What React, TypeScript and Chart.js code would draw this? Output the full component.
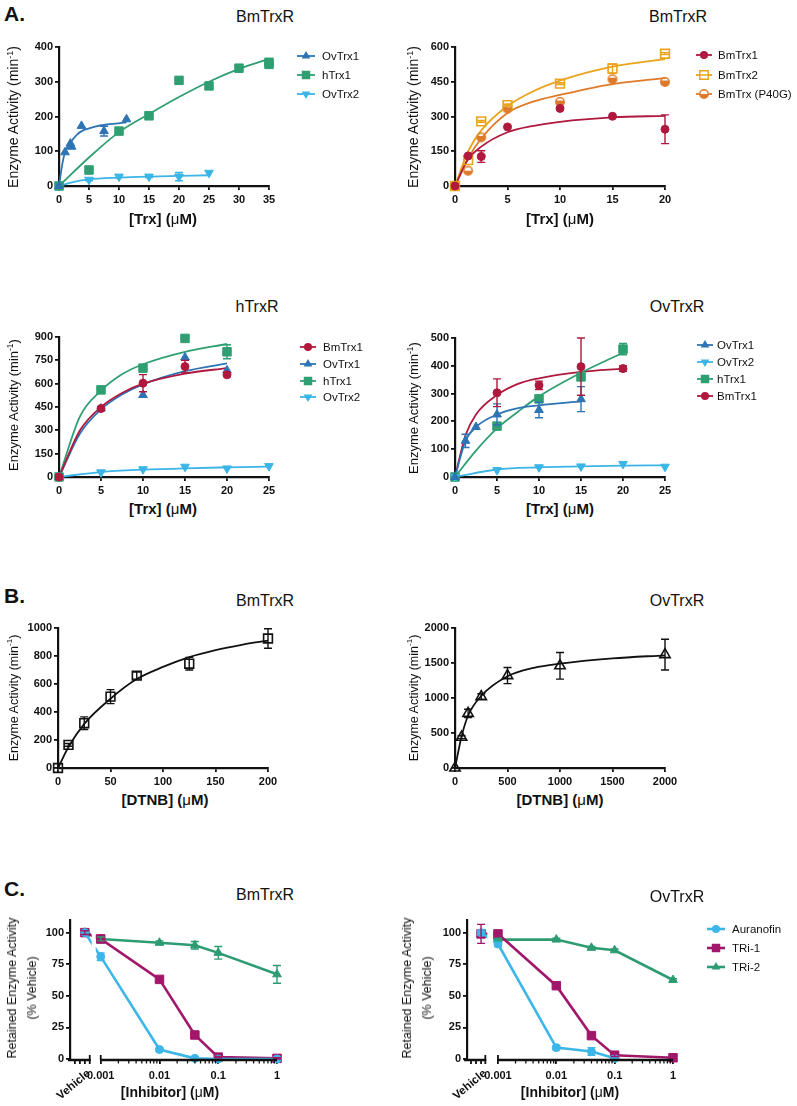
import React, { useEffect, useRef } from 'react';
import { Chart, registerables } from 'chart.js';
Chart.register(...registerables);

const FONT = '"Liberation Sans", Arial, Helvetica, sans-serif';

// ---------- colours ----------
const COL_OVTRX1 = '#2E74B5';
const COL_HTRX1 = '#2F9F72';
const COL_OVTRX2 = '#3BB4E6';
const COL_BMTRX1 = '#B0183E';
const COL_BMTRX2 = '#E9A41C';
const COL_P40G = '#DE7A2A';
const COL_AURANOFIN = '#3DB6E8';
const COL_TRI1 = '#A1176A';
const COL_TRI2 = '#2E9C72';
const COL_BLACK = '#111111';

// ---------- A1 : BmTrxR ----------
const A1_OVTRX1_X = [0, 1, 1.9, 2.1, 3.75, 7.5, 11.25];
const A1_OVTRX1_Y = [0, 97, 122, 113, 173, 158, 192];
const A1_OVTRX1_ERR = [0, 0, 0, 0, 0, 14, 0];
const A1_OVTRX1_FIT_X = [0, 0.5, 1, 2, 3, 4, 5, 6, 8, 11.25];
const A1_OVTRX1_FIT_Y = [0, 58, 97, 127, 148, 160, 166, 171, 177, 183];
const A1_HTRX1_X = [0, 5, 10, 15, 20, 25, 30, 35, 35];
const A1_HTRX1_Y = [0, 46, 158, 202, 304, 288, 339, 350, 356];
const A1_HTRX1_FIT_X = [0, 5, 10, 15, 20, 25, 30, 35];
const A1_HTRX1_FIT_Y = [0, 82, 155, 207, 256, 300, 337, 366];
const A1_OVTRX2_X = [0, 5, 10, 15, 20, 25];
const A1_OVTRX2_Y = [0, 18, 27, 27, 27, 38];
const A1_OVTRX2_ERR = [0, 3, 3, 3, 12, 0];
const A1_OVTRX2_FIT_X = [0, 2.5, 5, 10, 15, 20, 25];
const A1_OVTRX2_FIT_Y = [0, 12, 19, 24, 27, 29, 31];
const A1_X_TICKS = [0, 5, 10, 15, 20, 25, 30, 35];
const A1_Y_TICKS = [0, 100, 200, 300, 400];

// ---------- A2 : BmTrxR ----------
const A2_TRX_X = [0, 1.25, 2.5, 5, 10, 15, 20];
const A2_BMTRX1_Y = [0, 130, 127, 255, 335, 301, 245];
const A2_BMTRX1_ERR = [0, 0, 25, 0, 7, 0, 62];
const A2_BMTRX2_Y = [0, 112, 279, 349, 442, 507, 571];
const A2_BMTRX2_ERR = [0, 0, 4, 4, 4, 20, 4];
const A2_P40G_Y = [0, 66, 210, 334, 363, 461, 449];
const A2_P40G_ERR = [0, 0, 3, 3, 3, 3, 3];
const A2_FIT_X = [0, 1.25, 2.5, 5, 7.5, 10, 15, 20];
const A2_BMTRX1_FIT_Y = [0, 115, 170, 232, 260, 277, 296, 303];
const A2_BMTRX2_FIT_Y = [0, 150, 240, 345, 410, 455, 515, 548];
const A2_P40G_FIT_Y = [0, 120, 205, 315, 365, 393, 440, 466];
const A2_X_TICKS = [0, 5, 10, 15, 20];
const A2_Y_TICKS = [0, 150, 300, 450, 600];

// ---------- A3 : hTrxR ----------
const A3_TRX_X = [0, 5, 10, 15, 20];
const A3_BMTRX1_Y = [0, 440, 603, 710, 657];
const A3_BMTRX1_ERR = [0, 8, 55, 40, 8];
const A3_OVTRX1_Y = [0, 440, 527, 769, 685];
const A3_HTRX1_Y = [0, 560, 700, 891, 805];
const A3_HTRX1_ERR = [0, 0, 0, 0, 45];
const A3_OVTRX2_X = [0, 5, 10, 15, 20, 25];
const A3_OVTRX2_Y = [0, 30, 50, 66, 55, 70];
const A3_FIT_X = [0, 2.5, 5, 7.5, 10, 15, 20];
const A3_BMTRX1_FIT_Y = [0, 300, 450, 540, 600, 665, 700];
const A3_OVTRX1_FIT_Y = [0, 280, 435, 530, 595, 680, 730];
const A3_HTRX1_FIT_Y = [0, 390, 555, 660, 725, 805, 855];
const A3_OVTRX2_FIT_X = [0, 5, 10, 15, 20, 25];
const A3_OVTRX2_FIT_Y = [0, 32, 47, 56, 62, 67];
const A3_X_TICKS = [0, 5, 10, 15, 20, 25];
const A3_Y_TICKS = [0, 150, 300, 450, 600, 750, 900];

// ---------- A4 : OvTrxR ----------
const A4_OVTRX1_X = [0, 1.25, 2.5, 5, 10, 15];
const A4_OVTRX1_Y = [0, 130, 180, 225, 241, 280];
const A4_OVTRX1_ERR = [0, 24, 0, 38, 28, 45];
const A4_OVTRX1_FIT_X = [0, 1.25, 2.5, 5, 7.5, 10, 15];
const A4_OVTRX1_FIT_Y = [0, 130, 180, 225, 248, 258, 272];
const A4_OVTRX2_X = [0, 5, 10, 15, 20, 25];
const A4_OVTRX2_Y = [0, 25, 35, 38, 47, 37];
const A4_OVTRX2_FIT_Y = [0, 27, 35, 38, 41, 42];
const A4_TRX_X = [0, 5, 10, 15, 20];
const A4_HTRX1_Y = [0, 183, 281, 360, 460];
const A4_HTRX1_ERR = [0, 0, 0, 0, 20];
const A4_HTRX1_FIT_X = [0, 2.5, 5, 7.5, 10, 15, 20];
const A4_HTRX1_FIT_Y = [0, 95, 175, 235, 290, 375, 447];
const A4_BMTRX1_Y = [0, 303, 330, 397, 390];
const A4_BMTRX1_ERR = [0, 50, 15, 103, 10];
const A4_BMTRX1_FIT_X = [0, 1.25, 2.5, 5, 7.5, 10, 15, 20];
const A4_BMTRX1_FIT_Y = [0, 150, 225, 295, 335, 355, 378, 390];
const A4_X_TICKS = [0, 5, 10, 15, 20, 25];
const A4_Y_TICKS = [0, 100, 200, 300, 400, 500];

// ---------- B1 : BmTrxR (DTNB) ----------
const B1_DTNB_X = [0, 10, 25, 50, 75, 125, 200];
const B1_ACT_Y = [0, 165, 320, 510, 660, 745, 925];
const B1_ACT_ERR = [0, 10, 45, 50, 25, 45, 70];
const B1_FIT_X = [0, 10, 25, 50, 75, 100, 125, 150, 175, 200];
const B1_FIT_Y = [0, 150, 315, 495, 635, 722, 792, 842, 880, 910];
const B1_X_TICKS = [0, 50, 100, 150, 200];
const B1_Y_TICKS = [0, 200, 400, 600, 800, 1000];

// ---------- B2 : OvTrxR (DTNB) ----------
const B2_DTNB_X = [0, 62.5, 125, 250, 500, 1000, 2000];
const B2_ACT_Y = [0, 440, 780, 1020, 1320, 1460, 1620];
const B2_ACT_ERR = [0, 20, 60, 40, 115, 190, 220];
const B2_FIT_X = [0, 62.5, 125, 250, 500, 750, 1000, 1500, 2000];
const B2_FIT_Y = [0, 450, 750, 1030, 1310, 1430, 1490, 1565, 1610];
const B2_X_TICKS = [0, 500, 1000, 1500, 2000];
const B2_Y_TICKS = [0, 500, 1000, 1500, 2000];

// ---------- C : inhibitors (first value = Vehicle) ----------
const INHIB_CONC = [0.001, 0.01, 0.04, 0.1, 1];
const INHIB_X_TICKS = [0.001, 0.01, 0.1, 1];
const C_Y_TICKS = [0, 25, 50, 75, 100];
const C1_AURANOFIN = [100, 81, 7.5, 0.5, 0, 0];
const C1_AURANOFIN_ERR = [1.5, 3, 1, 0, 0, 0];
const C1_TRI1 = [100, 95, 63, 19, 1.5, 0.5];
const C1_TRI1_ERR = [1.5, 3, 1.5, 1.5, 0.5, 0.5];
const C1_TRI2 = [100, 95, 92, 90, 84, 67];
const C1_TRI2_ERR = [0, 1.5, 1.5, 3, 5, 7];
const C2_AURANOFIN = [100, 91, 9, 6, 0.5, null];
const C2_AURANOFIN_ERR = [2, 2, 1.5, 3, 0, 0];
const C2_TRI1 = [99, 99, 58, 18.5, 3, 1];
const C2_TRI1_ERR = [7.5, 1.5, 2, 2, 1, 1];
const C2_TRI2 = [98, 94.5, 94.5, 88, 86, 62.5];
const C2_TRI2_ERR = [0, 1, 1, 1, 1, 1];

// ---------- types ----------
type Marker = 'circle' | 'rect' | 'triangle' | 'triangleDown' | 'openRect' | 'openTriangle' | 'halfCircle';
interface Series {
  label?: string;
  color: string;
  marker: Marker;
  x: number[];
  y: (number | null)[];
  err?: number[];
  fitX?: number[];
  fitY?: number[];
  connect?: boolean;
}
interface Panel {
  canvas: { x: number; y: number; w: number; h: number };
  area: { l: number; t: number; r: number; b: number };
  xMin: number; xMax: number; xTicks: number[]; xLog?: boolean;
  yMax: number; yTicks: number[];
  series: Series[];
  legend?: { x: number; ys: number[]; len: number; off: number };
  broken?: { segEnd: number; vehicle: number };
}

const TICK_FONT = { family: FONT, size: 11, weight: 'bold' as const };

function makeHalfCircle(color: string) {
  const c = document.createElement('canvas');
  c.width = 12; c.height = 12;
  const g = c.getContext('2d')!;
  g.fillStyle = color; g.strokeStyle = color; g.lineWidth = 1.5;
  g.beginPath(); g.arc(6, 6, 4.2, 0, Math.PI); g.closePath(); g.fill();
  g.beginPath(); g.arc(6, 6, 4.2, 0, Math.PI * 2); g.stroke();
  return c;
}

function markerOpts(s: Series) {
  const base: any = { pointBorderColor: s.color, pointBackgroundColor: s.color, pointBorderWidth: 1, pointHoverRadius: 0 };
  switch (s.marker) {
    case 'circle': return { ...base, pointStyle: 'circle', pointRadius: 4 };
    case 'rect': return { ...base, pointStyle: 'rect', pointRadius: 6 };
    case 'triangle': return { ...base, pointStyle: 'triangle', pointRadius: 5 };
    case 'triangleDown': return { ...base, pointStyle: 'triangle', pointRadius: 5, pointRotation: 180 };
    case 'openRect': return { ...base, pointStyle: 'rect', pointRadius: 6.2, pointBackgroundColor: 'rgba(0,0,0,0)', pointBorderWidth: 1.6 };
    case 'openTriangle': return { ...base, pointStyle: 'triangle', pointRadius: 6, pointBackgroundColor: 'rgba(0,0,0,0)', pointBorderWidth: 1.6 };
    case 'halfCircle': return { ...base, pointStyle: makeHalfCircle(s.color), pointRadius: 5 };
  }
}

function drawMarker(ctx: CanvasRenderingContext2D, kind: Marker, color: string, x: number, y: number) {
  ctx.save();
  ctx.fillStyle = color; ctx.strokeStyle = color; ctx.lineWidth = 1.5;
  const tri = (r: number, down: boolean) => {
    const s = down ? -1 : 1;
    ctx.beginPath();
    ctx.moveTo(x, y - s * r);
    ctx.lineTo(x + r * Math.sin(2 * Math.PI / 3), y + s * r / 2);
    ctx.lineTo(x - r * Math.sin(2 * Math.PI / 3), y + s * r / 2);
    ctx.closePath();
  };
  const h = 6 * Math.SQRT1_2;
  if (kind === 'circle') { ctx.beginPath(); ctx.arc(x, y, 4, 0, Math.PI * 2); ctx.fill(); }
  else if (kind === 'rect') { ctx.fillRect(x - h, y - h, 2 * h, 2 * h); }
  else if (kind === 'openRect') { ctx.fillStyle = '#fff'; ctx.fillRect(x - h, y - h, 2 * h, 2 * h); ctx.strokeRect(x - h, y - h, 2 * h, 2 * h); ctx.beginPath(); ctx.moveTo(x - h, y); ctx.lineTo(x + h, y); ctx.stroke(); }
  else if (kind === 'triangle') { tri(5, false); ctx.fill(); }
  else if (kind === 'triangleDown') { tri(5, true); ctx.fill(); }
  else if (kind === 'openTriangle') { tri(6, false); ctx.stroke(); }
  else if (kind === 'halfCircle') {
    ctx.fillStyle = '#fff'; ctx.beginPath(); ctx.arc(x, y, 4.2, 0, Math.PI * 2); ctx.fill();
    ctx.fillStyle = color; ctx.beginPath(); ctx.arc(x, y, 4.2, 0, Math.PI); ctx.closePath(); ctx.fill();
    ctx.beginPath(); ctx.arc(x, y, 4.2, 0, Math.PI * 2); ctx.stroke();
  }
  ctx.restore();
}

function buildConfig(p: Panel): any {
  const markerSets: any[] = [];
  const fitSets: any[] = [];
  p.series.forEach((s) => {
    markerSets.push({
      data: s.x.map((x, i) => ({ x, y: s.y[i] })),
      showLine: !!s.connect,
      borderColor: s.color,
      borderWidth: 2.6,
      tension: 0,
      spanGaps: false,
      clip: false,
      errs: s.err,
      errColor: s.color,
      ...markerOpts(s),
    });
    if (s.fitX && s.fitY) {
      fitSets.push({
        data: s.fitX.map((x, i) => ({ x, y: s.fitY![i] })),
        showLine: true,
        pointRadius: 0,
        pointHoverRadius: 0,
        borderColor: s.color,
        borderWidth: 1.8,
        cubicInterpolationMode: 'monotone',
        clip: false,
      });
    }
  });

  const deco = {
    id: 'deco',
    afterDatasetsDraw(chart: any) {
      const ctx: CanvasRenderingContext2D = chart.ctx;
      const xs = chart.scales.x;
      const ys = chart.scales.y;
      const ca = chart.chartArea;
      if (p.broken) {
        const x1 = xs.getPixelForValue(p.broken.segEnd) + 1;
        const x2 = xs.getPixelForValue(INHIB_X_TICKS[0]) - 5;
        ctx.save();
        ctx.fillStyle = '#ffffff';
        ctx.fillRect(x1, ca.top - 12, x2 - x1, ca.bottom - ca.top + 10);
        ctx.restore();
      }
      chart.data.datasets.forEach((ds: any, i: number) => {
        if (!ds.errs) return;
        const meta = chart.getDatasetMeta(i);
        ctx.save();
        ctx.strokeStyle = ds.errColor;
        ctx.lineWidth = 1.4;
        meta.data.forEach((el: any, j: number) => {
          const e = ds.errs[j];
          const v = ds.data[j].y;
          if (!e || v == null) return;
          const x = el.x;
          const yt = ys.getPixelForValue(v + e);
          const yb = ys.getPixelForValue(v - e);
          ctx.beginPath();
          ctx.moveTo(x, yt); ctx.lineTo(x, yb);
          ctx.moveTo(x - 4, yt); ctx.lineTo(x + 4, yt);
          ctx.moveTo(x - 4, yb); ctx.lineTo(x + 4, yb);
          ctx.stroke();
        });
        ctx.restore();
      });
    },
    afterDraw(chart: any) {
      const ctx: CanvasRenderingContext2D = chart.ctx;
      const xs = chart.scales.x;
      const ca = chart.chartArea;
      if (p.broken) {
        const yA = ca.bottom + 1;
        const xMinPx = xs.getPixelForValue(p.xMin);
        const segEndPx = xs.getPixelForValue(p.broken.segEnd);
        const vehPx = xs.getPixelForValue(p.broken.vehicle);
        const startPx = xs.getPixelForValue(INHIB_X_TICKS[0]);
        const endPx = xs.getPixelForValue(p.xMax);
        ctx.save();
        ctx.strokeStyle = COL_BLACK;
        ctx.lineWidth = 2.6;
        ctx.beginPath();
        ctx.moveTo(xMinPx - 3, yA); ctx.lineTo(segEndPx, yA);
        ctx.moveTo(startPx, yA); ctx.lineTo(endPx, yA);
        ctx.stroke();
        ctx.lineWidth = 1.8;
        ctx.beginPath();
        [xMinPx + 4, xMinPx + 9, vehPx, segEndPx - 1].forEach((tx) => {
          ctx.moveTo(tx, yA); ctx.lineTo(tx, yA + 4);
        });
        ctx.moveTo(segEndPx - 1, yA); ctx.lineTo(segEndPx - 1, yA - 5);
        ctx.moveTo(startPx, yA - 5); ctx.lineTo(startPx, yA);
        ctx.stroke();
        ctx.lineWidth = 1.3;
        ctx.beginPath();
        for (let d = -3; d <= -1; d++) {
          for (let k = 2; k <= 9; k++) {
            const tx = xs.getPixelForValue(k * Math.pow(10, d));
            ctx.moveTo(tx, yA); ctx.lineTo(tx, yA + 3.5);
          }
        }
        ctx.stroke();
        ctx.translate(vehPx + 4, ca.bottom + 13);
        ctx.rotate(-40 * Math.PI / 180);
        ctx.font = `bold 11.5px ${FONT}`;
        ctx.fillStyle = COL_BLACK;
        ctx.textAlign = 'right';
        ctx.textBaseline = 'middle';
        ctx.fillText('Vehicle', 0, 0);
        ctx.restore();
      }
      if (p.legend) {
        const lg = p.legend;
        const items = p.series.filter((s) => s.label);
        items.forEach((s, i) => {
          const x0 = lg.x - p.canvas.x;
          const y0 = lg.ys[i] - p.canvas.y;
          ctx.save();
          ctx.strokeStyle = s.color;
          ctx.lineWidth = s.connect ? 2.6 : 1.8;
          ctx.beginPath(); ctx.moveTo(x0, y0); ctx.lineTo(x0 + lg.len, y0); ctx.stroke();
          drawMarker(ctx, s.marker, s.color, x0 + lg.len / 2, y0);
          ctx.font = `11.5px ${FONT}`;
          ctx.fillStyle = COL_BLACK;
          ctx.textAlign = 'left';
          ctx.textBaseline = 'middle';
          ctx.fillText(s.label!, x0 + lg.off, y0 + 0.5);
          ctx.restore();
        });
      }
    },
  };

  const gridOpts = { display: true, drawOnChartArea: false, drawTicks: true, tickLength: 4, color: COL_BLACK, lineWidth: 1.8 };

  return {
    type: 'scatter',
    data: { datasets: [...markerSets, ...fitSets] },
    options: {
      responsive: false,
      animation: false,
      devicePixelRatio: 1,
      events: [],
      layout: {
        padding: {
          top: p.area.t - p.canvas.y,
          right: p.canvas.x + p.canvas.w - p.area.r,
          left: 0,
          bottom: 0,
        },
      },
      plugins: { legend: { display: false }, tooltip: { enabled: false }, title: { display: false } },
      scales: {
        x: {
          type: p.xLog ? 'logarithmic' : 'linear',
          min: p.xMin,
          max: p.xMax,
          afterBuildTicks: (s: any) => { s.ticks = p.xTicks.map((v) => ({ value: v })); },
          afterFit: (s: any) => { s.height = p.canvas.y + p.canvas.h - p.area.b; },
          ticks: { autoSkip: false, maxRotation: 0, minRotation: 0, padding: p.broken ? 5 : 3, font: TICK_FONT, color: COL_BLACK, callback: (v: any) => String(v) },
          grid: { ...gridOpts, tickLength: p.broken ? 5 : 4 },
          border: { display: !p.broken, color: COL_BLACK, width: 2.2 },
        },
        y: {
          type: 'linear',
          min: 0,
          max: p.yMax,
          afterBuildTicks: (s: any) => { s.ticks = p.yTicks.map((v) => ({ value: v })); },
          afterFit: (s: any) => { s.width = p.area.l - p.canvas.x; },
          ticks: { autoSkip: false, padding: 2, font: TICK_FONT, color: COL_BLACK, callback: (v: any) => String(v) },
          grid: gridOpts,
          border: { display: true, color: COL_BLACK, width: 2.2 },
        },
      },
    },
    plugins: [deco],
  };
}

// ---------- panel definitions ----------
const C1_VEH = Math.pow(10, -3.27);
const C2_VEH = Math.pow(10, -3.29);

const PANELS: Panel[] = [
  {
    canvas: { x: 0, y: 30, w: 397, h: 185 }, area: { l: 59, t: 47, r: 269, b: 186 },
    xMin: 0, xMax: 35, xTicks: A1_X_TICKS, yMax: 400, yTicks: A1_Y_TICKS,
    legend: { x: 297, ys: [56, 75, 94], len: 18, off: 25 },
    series: [
      { label: 'OvTrx1', color: COL_OVTRX1, marker: 'triangle', x: A1_OVTRX1_X, y: A1_OVTRX1_Y, err: A1_OVTRX1_ERR, fitX: A1_OVTRX1_FIT_X, fitY: A1_OVTRX1_FIT_Y },
      { label: 'hTrx1', color: COL_HTRX1, marker: 'rect', x: A1_HTRX1_X, y: A1_HTRX1_Y, fitX: A1_HTRX1_FIT_X, fitY: A1_HTRX1_FIT_Y },
      { label: 'OvTrx2', color: COL_OVTRX2, marker: 'triangleDown', x: A1_OVTRX2_X, y: A1_OVTRX2_Y, err: A1_OVTRX2_ERR, fitX: A1_OVTRX2_FIT_X, fitY: A1_OVTRX2_FIT_Y },
    ],
  },
  {
    canvas: { x: 397, y: 30, w: 400, h: 185 }, area: { l: 455, t: 47, r: 665, b: 186 },
    xMin: 0, xMax: 20, xTicks: A2_X_TICKS, yMax: 600, yTicks: A2_Y_TICKS,
    legend: { x: 696, ys: [55, 75, 94], len: 16, off: 22 },
    series: [
      { label: 'BmTrx1', color: COL_BMTRX1, marker: 'circle', x: A2_TRX_X, y: A2_BMTRX1_Y, err: A2_BMTRX1_ERR, fitX: A2_FIT_X, fitY: A2_BMTRX1_FIT_Y },
      { label: 'BmTrx2', color: COL_BMTRX2, marker: 'openRect', x: A2_TRX_X, y: A2_BMTRX2_Y, err: A2_BMTRX2_ERR, fitX: A2_FIT_X, fitY: A2_BMTRX2_FIT_Y },
      { label: 'BmTrx (P40G)', color: COL_P40G, marker: 'halfCircle', x: A2_TRX_X, y: A2_P40G_Y, err: A2_P40G_ERR, fitX: A2_FIT_X, fitY: A2_P40G_FIT_Y },
    ],
  },
  {
    canvas: { x: 0, y: 320, w: 397, h: 175 }, area: { l: 59, t: 337, r: 269, b: 477 },
    xMin: 0, xMax: 25, xTicks: A3_X_TICKS, yMax: 900, yTicks: A3_Y_TICKS,
    legend: { x: 300, ys: [347, 364, 381, 397], len: 16, off: 23 },
    series: [
      { label: 'BmTrx1', color: COL_BMTRX1, marker: 'circle', x: A3_TRX_X, y: A3_BMTRX1_Y, err: A3_BMTRX1_ERR, fitX: A3_FIT_X, fitY: A3_BMTRX1_FIT_Y },
      { label: 'OvTrx1', color: COL_OVTRX1, marker: 'triangle', x: A3_TRX_X, y: A3_OVTRX1_Y, fitX: A3_FIT_X, fitY: A3_OVTRX1_FIT_Y },
      { label: 'hTrx1', color: COL_HTRX1, marker: 'rect', x: A3_TRX_X, y: A3_HTRX1_Y, err: A3_HTRX1_ERR, fitX: A3_FIT_X, fitY: A3_HTRX1_FIT_Y },
      { label: 'OvTrx2', color: COL_OVTRX2, marker: 'triangleDown', x: A3_OVTRX2_X, y: A3_OVTRX2_Y, fitX: A3_OVTRX2_FIT_X, fitY: A3_OVTRX2_FIT_Y },
    ],
  },
  {
    canvas: { x: 397, y: 320, w: 400, h: 175 }, area: { l: 455, t: 338, r: 665, b: 477 },
    xMin: 0, xMax: 25, xTicks: A4_X_TICKS, yMax: 500, yTicks: A4_Y_TICKS,
    legend: { x: 697, ys: [345, 362, 379, 396], len: 16, off: 20 },
    series: [
      { label: 'OvTrx1', color: COL_OVTRX1, marker: 'triangle', x: A4_OVTRX1_X, y: A4_OVTRX1_Y, err: A4_OVTRX1_ERR, fitX: A4_OVTRX1_FIT_X, fitY: A4_OVTRX1_FIT_Y },
      { label: 'OvTrx2', color: COL_OVTRX2, marker: 'triangleDown', x: A4_OVTRX2_X, y: A4_OVTRX2_Y, fitX: A4_OVTRX2_X, fitY: A4_OVTRX2_FIT_Y },
      { label: 'hTrx1', color: COL_HTRX1, marker: 'rect', x: A4_TRX_X, y: A4_HTRX1_Y, err: A4_HTRX1_ERR, fitX: A4_HTRX1_FIT_X, fitY: A4_HTRX1_FIT_Y },
      { label: 'BmTrx1', color: COL_BMTRX1, marker: 'circle', x: A4_TRX_X, y: A4_BMTRX1_Y, err: A4_BMTRX1_ERR, fitX: A4_BMTRX1_FIT_X, fitY: A4_BMTRX1_FIT_Y },
    ],
  },
  {
    canvas: { x: 0, y: 612, w: 397, h: 175 }, area: { l: 58, t: 628, r: 268, b: 768 },
    xMin: 0, xMax: 200, xTicks: B1_X_TICKS, yMax: 1000, yTicks: B1_Y_TICKS,
    series: [
      { color: COL_BLACK, marker: 'openRect', x: B1_DTNB_X, y: B1_ACT_Y, err: B1_ACT_ERR, fitX: B1_FIT_X, fitY: B1_FIT_Y },
    ],
  },
  {
    canvas: { x: 397, y: 612, w: 400, h: 175 }, area: { l: 455, t: 628, r: 665, b: 768 },
    xMin: 0, xMax: 2000, xTicks: B2_X_TICKS, yMax: 2000, yTicks: B2_Y_TICKS,
    series: [
      { color: COL_BLACK, marker: 'openTriangle', x: B2_DTNB_X, y: B2_ACT_Y, err: B2_ACT_ERR, fitX: B2_FIT_X, fitY: B2_FIT_Y },
    ],
  },
  {
    canvas: { x: 0, y: 905, w: 397, h: 200 }, area: { l: 70, t: 920, r: 277, b: 1059 },
    xLog: true, xMin: Math.pow(10, -3.508), xMax: 1, xTicks: INHIB_X_TICKS, yMax: 110, yTicks: C_Y_TICKS,
    broken: { segEnd: Math.pow(10, -3.17), vehicle: C1_VEH },
    series: [
      { color: COL_AURANOFIN, marker: 'circle', connect: true, x: [C1_VEH, ...INHIB_CONC], y: C1_AURANOFIN, err: C1_AURANOFIN_ERR },
      { color: COL_TRI1, marker: 'rect', connect: true, x: [C1_VEH, ...INHIB_CONC], y: C1_TRI1, err: C1_TRI1_ERR },
      { color: COL_TRI2, marker: 'triangle', connect: true, x: [C1_VEH, ...INHIB_CONC], y: C1_TRI2, err: C1_TRI2_ERR },
    ],
  },
  {
    canvas: { x: 397, y: 905, w: 400, h: 200 }, area: { l: 467, t: 920, r: 673, b: 1059 },
    xLog: true, xMin: Math.pow(10, -3.531), xMax: 1, xTicks: INHIB_X_TICKS, yMax: 110, yTicks: C_Y_TICKS,
    broken: { segEnd: Math.pow(10, -3.2), vehicle: C2_VEH },
    legend: { x: 707, ys: [929, 948, 967], len: 18, off: 25 },
    series: [
      { label: 'Auranofin', color: COL_AURANOFIN, marker: 'circle', connect: true, x: [C2_VEH, ...INHIB_CONC], y: C2_AURANOFIN, err: C2_AURANOFIN_ERR },
      { label: 'TRi-1', color: COL_TRI1, marker: 'rect', connect: true, x: [C2_VEH, ...INHIB_CONC], y: C2_TRI1, err: C2_TRI1_ERR },
      { label: 'TRi-2', color: COL_TRI2, marker: 'triangle', connect: true, x: [C2_VEH, ...INHIB_CONC], y: C2_TRI2, err: C2_TRI2_ERR },
    ],
  },
];

function PanelChart({ p }: { p: Panel }) {
  const ref = useRef<HTMLCanvasElement>(null);
  useEffect(() => {
    const chart = new Chart(ref.current!, buildConfig(p));
    return () => chart.destroy();
  }, []);
  return (
    <canvas
      ref={ref}
      width={p.canvas.w}
      height={p.canvas.h}
      style={{ position: 'absolute', left: p.canvas.x, top: p.canvas.y, width: p.canvas.w, height: p.canvas.h }}
    />
  );
}

function Txt({ x, y, size, bold, rot, children, lh }: { x: number; y: number; size: number; bold?: boolean; rot?: boolean; children: any; lh?: number }) {
  return (
    <div
      style={{
        position: 'absolute', left: x, top: y,
        transform: `translate(-50%, -50%)${rot ? ' rotate(-90deg)' : ''}`,
        fontFamily: FONT, fontSize: size, fontWeight: bold ? 'bold' : 'normal',
        color: COL_BLACK, whiteSpace: 'nowrap', textAlign: 'center', lineHeight: lh ? `${lh}px` : 'normal',
      }}
    >
      {children}
    </div>
  );
}

const mu = <span style={{ fontWeight: 'normal' }}>μ</span>;
const yTitle = <>Enzyme Activity (min<sup style={{ fontSize: '0.65em' }}>-1</sup>)</>;

export default function App() {
  return (
    <div style={{ position: 'absolute', left: 0, top: 0, width: 797, height: 1106, background: '#fff', overflow: 'hidden' }}>
      {PANELS.map((p, i) => <PanelChart key={i} p={p} />)}

      <div style={{ position: 'absolute', left: 4, top: 2, fontFamily: FONT, fontSize: 21, fontWeight: 'bold', color: COL_BLACK }}>A.</div>
      <div style={{ position: 'absolute', left: 4, top: 584, fontFamily: FONT, fontSize: 21, fontWeight: 'bold', color: COL_BLACK }}>B.</div>
      <div style={{ position: 'absolute', left: 4, top: 877, fontFamily: FONT, fontSize: 21, fontWeight: 'bold', color: COL_BLACK }}>C.</div>

      <Txt x={265} y={17} size={16}>BmTrxR</Txt>
      <Txt x={678} y={17} size={16}>BmTrxR</Txt>
      <Txt x={257} y={307} size={16}>hTrxR</Txt>
      <Txt x={677} y={307} size={16}>OvTrxR</Txt>
      <Txt x={265} y={601} size={16}>BmTrxR</Txt>
      <Txt x={677} y={601} size={16}>OvTrxR</Txt>
      <Txt x={265} y={895} size={16}>BmTrxR</Txt>
      <Txt x={677} y={897} size={16}>OvTrxR</Txt>

      <Txt x={163} y={218} size={15} bold>[Trx] ({mu}M)</Txt>
      <Txt x={560} y={218} size={15} bold>[Trx] ({mu}M)</Txt>
      <Txt x={163} y={508} size={15} bold>[Trx] ({mu}M)</Txt>
      <Txt x={560} y={508} size={15} bold>[Trx] ({mu}M)</Txt>
      <Txt x={165} y={799} size={15} bold>[DTNB] ({mu}M)</Txt>
      <Txt x={560} y={799} size={15} bold>[DTNB] ({mu}M)</Txt>
      <Txt x={170} y={1092} size={14} bold>[Inhibitor] ({mu}M)</Txt>
      <Txt x={570} y={1092} size={14} bold>[Inhibitor] ({mu}M)</Txt>

      <Txt x={13} y={117} size={14} rot>{yTitle}</Txt>
      <Txt x={413} y={117} size={14} rot>{yTitle}</Txt>
      <Txt x={13} y={405} size={13} rot>{yTitle}</Txt>
      <Txt x={413} y={408} size={13} rot>{yTitle}</Txt>
      <Txt x={13} y={698} size={12.5} rot>{yTitle}</Txt>
      <Txt x={413} y={698} size={12.5} rot>{yTitle}</Txt>
      <Txt x={22} y={988} size={12.5} rot lh={20}>Retained Enzyme Activity<br />(% Vehicle)</Txt>
      <Txt x={417} y={988} size={12.5} rot lh={20}>Retained Enzyme Activity<br />(% Vehicle)</Txt>
    </div>
  );
}
